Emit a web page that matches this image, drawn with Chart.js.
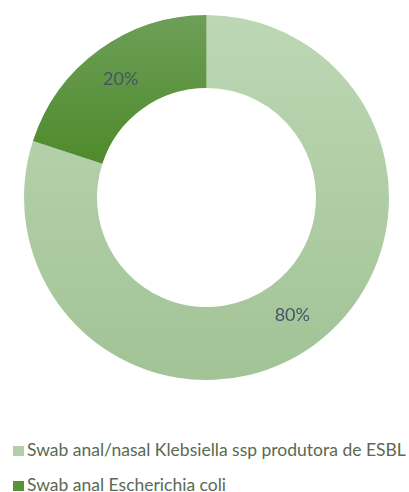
<!DOCTYPE html>
<html>
<head>
<meta charset="utf-8">
<script src="https://cdn.jsdelivr.net/npm/chart.js@4"></script>
<style>
    html, body { margin: 0; padding: 0; background: #fff; overflow: hidden; }
    #wrap { position: relative; width: 409px; height: 492px; }
    #chartBox { position: absolute; left: 0; top: 0; width: 409px; height: 400px; }
    #legend { position: absolute; left: 13px; top: 432px; font-family: Lato, "Liberation Sans", sans-serif; font-size: 17.5px; color: #596a52; }
    .item { height: 35px; line-height: 35px; white-space: nowrap; }
    .box { display: inline-block; width: 11px; height: 10px; margin-right: 3px; vertical-align: 0px; }
</style>
</head>
<body>
<div id="wrap">
    <div id="chartBox"><canvas id="pieChart"></canvas></div>
    <div id="legend"></div>
</div>
<script>
const categories = ["Swab anal/nasal Klebsiella ssp produtora de ESBL", "Swab anal Escherichia coli"];
const values = [80, 20];
const valueLabels = ["80%", "20%"];
// top/bottom colours of the slice gradients, plus the flat legend colours
const topColors = ["#bdd7b5", "#6d9f58"];
const bottomColors = ["#a1c395", "#3f7b1d"];
const legendColors = ["#b3cfa9", "#5a9239"];

function sliceFill(context) {
    let i = context.dataIndex;
    let area = context.chart.chartArea;
    if (!area) return legendColors[i];
    let g = context.chart.ctx.createLinearGradient(0, area.top, 0, area.bottom);
    g.addColorStop(0, topColors[i]);
    if (i == 1) {
        g.addColorStop(0.41, "#4f8a2b");
    }
    g.addColorStop(1, bottomColors[i]);
    return g;
}

// draws the percentage text in the middle of each slice
const sliceText = {
    id: "sliceText",
    afterDatasetsDraw(chart) {
        let ctx = chart.ctx;
        let meta = chart.getDatasetMeta(0);
        ctx.save();
        ctx.font = "18px Lato, 'Liberation Sans', sans-serif";
        ctx.fillStyle = "#44546a";
        ctx.textAlign = "center";
        ctx.textBaseline = "middle";
        meta.data.forEach(function(arc, i) {
            let p = arc.tooltipPosition();
            ctx.fillText(valueLabels[i], p.x, p.y);
        });
        ctx.restore();
    }
};

let ctx = document.getElementById("pieChart").getContext("2d");
let pieChart = new Chart(ctx, {
    type: "doughnut",
    data: {
        labels: categories,
        datasets: [{
            data: values,
            backgroundColor: sliceFill,
            borderWidth: 0
        }]
    },
    options: {
        responsive: true,
        maintainAspectRatio: false,
        animation: false,
        cutout: "60%",
        layout: {
            padding: { top: 15, bottom: 20, left: 4, right: 0 }
        },
        plugins: {
            legend: { display: false },
            tooltip: { enabled: false }
        }
    },
    plugins: [sliceText]
});

let legendDiv = document.getElementById("legend");
categories.forEach(function(name, i) {
    let row = document.createElement("div");
    row.className = "item";
    let box = document.createElement("span");
    box.className = "box";
    box.style.background = legendColors[i];
    row.appendChild(box);
    row.appendChild(document.createTextNode(name));
    legendDiv.appendChild(row);
});
</script>
</body>
</html>
